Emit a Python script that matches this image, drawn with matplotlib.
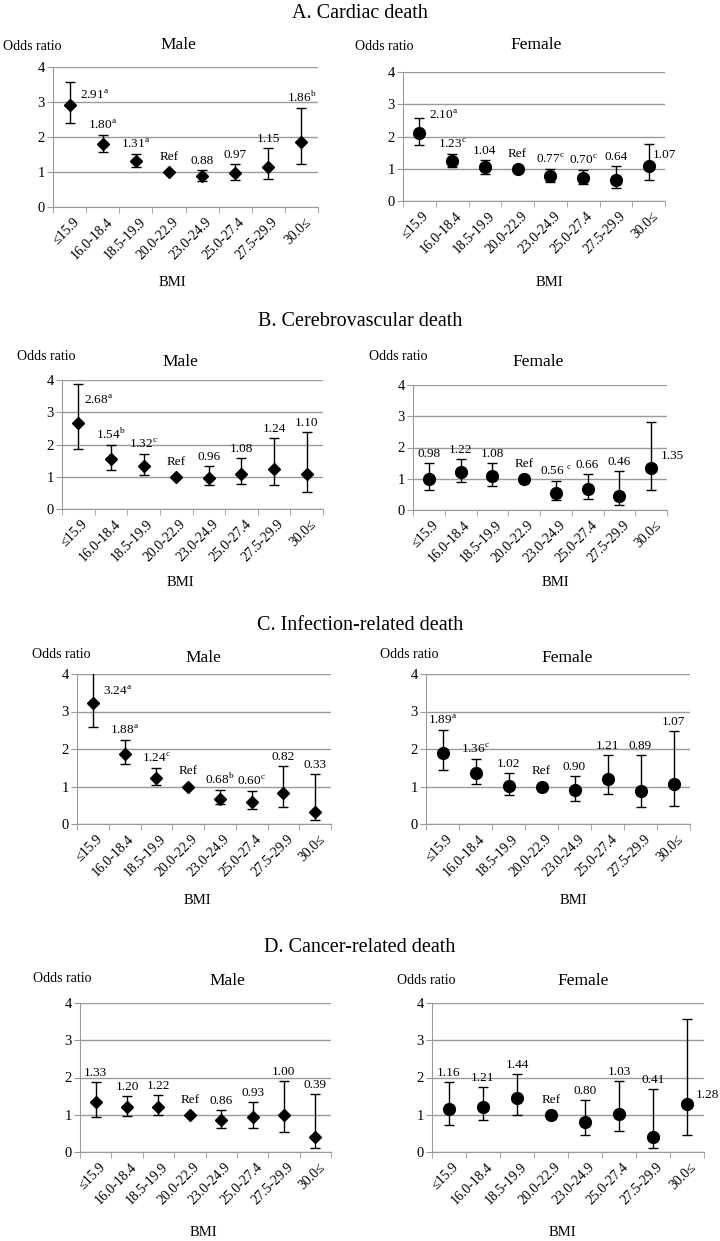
import numpy as np
import matplotlib.pyplot as plt
from matplotlib.transforms import ScaledTranslation

plt.rcParams['font.family'] = ['Liberation Serif', 'DejaVu Serif']
plt.rcParams['mathtext.fontset'] = 'custom'
plt.rcParams['mathtext.rm'] = 'Liberation Serif'

# BMI categories (index 3 is the reference group)
bmi_groups = ['≤15.9', '16.0-18.4', '18.5-19.9', '20.0-22.9',
              '23.0-24.9', '25.0-27.4', '27.5-29.9', '30.0≤']
ref_idx = 3

section_titles = ['A. Cardiac death', 'B. Cerebrovascular death',
                  'C. Infection-related death', 'D. Cancer-related death']

# A. Cardiac death
cardiac_male_or = [2.91, 1.80, 1.31, 1.00, 0.88, 0.97, 1.15, 1.86]
cardiac_male_lo = [2.39, 1.57, 1.15, np.nan, 0.74, 0.78, 0.79, 1.24]
cardiac_male_hi = [3.56, 2.06, 1.51, np.nan, 1.05, 1.22, 1.68, 2.82]
cardiac_male_sup = ['a', 'a', 'a', '', '', '', '', 'b']

cardiac_female_or = [2.10, 1.23, 1.04, 1.00, 0.77, 0.70, 0.64, 1.07]
cardiac_female_lo = [1.73, 1.04, 0.85, np.nan, 0.60, 0.52, 0.39, 0.66]
cardiac_female_hi = [2.58, 1.45, 1.27, np.nan, 0.98, 0.97, 1.08, 1.77]
cardiac_female_sup = ['a', 'c', '', '', 'c', 'c', '', '']

# B. Cerebrovascular death
cerebro_male_or = [2.68, 1.54, 1.32, 1.00, 0.96, 1.08, 1.24, 1.10]
cerebro_male_lo = [1.86, 1.21, 1.04, np.nan, 0.73, 0.78, 0.73, 0.53]
cerebro_male_hi = [3.87, 1.99, 1.71, np.nan, 1.32, 1.59, 2.21, 2.39]
cerebro_male_sup = ['a', 'b', 'c', '', '', '', '', '']

cerebro_female_or = [0.98, 1.22, 1.08, 1.00, 0.56, 0.66, 0.46, 1.35]
cerebro_female_lo = [0.63, 0.90, 0.77, np.nan, 0.32, 0.36, 0.17, 0.64]
cerebro_female_hi = [1.51, 1.63, 1.49, np.nan, 0.94, 1.16, 1.25, 2.83]
cerebro_female_sup = ['', '', '', '', ' c', '', '', '']

# C. Infection-related death
infect_male_or = [3.24, 1.88, 1.24, 1.00, 0.68, 0.60, 0.82, 0.33]
infect_male_lo = [2.59, 1.60, 1.03, np.nan, 0.53, 0.40, 0.45, 0.10]
infect_male_hi = [4.10, 2.23, 1.50, np.nan, 0.90, 0.88, 1.56, 1.34]
infect_male_sup = ['a', 'a', 'c', '', 'b', 'c', '', '']

infect_female_or = [1.89, 1.36, 1.02, 1.00, 0.90, 1.21, 0.89, 1.07]
infect_female_lo = [1.43, 1.08, 0.78, np.nan, 0.62, 0.80, 0.45, 0.47]
infect_female_hi = [2.50, 1.73, 1.37, np.nan, 1.29, 1.85, 1.85, 2.48]
infect_female_sup = ['a', 'c', '', '', '', '', '', '']

# D. Cancer-related death
cancer_male_or = [1.33, 1.20, 1.22, 1.00, 0.86, 0.93, 1.00, 0.39]
cancer_male_lo = [0.94, 0.97, 1.00, np.nan, 0.64, 0.65, 0.53, 0.10]
cancer_male_hi = [1.88, 1.51, 1.52, np.nan, 1.14, 1.34, 1.90, 1.57]
cancer_male_sup = ['', '', '', '', '', '', '', '']

cancer_female_or = [1.16, 1.21, 1.44, 1.00, 0.80, 1.03, 0.41, 1.28]
cancer_female_lo = [0.72, 0.85, 1.00, np.nan, 0.46, 0.57, 0.10, 0.46]
cancer_female_hi = [1.89, 1.74, 2.09, np.nan, 1.39, 1.90, 1.69, 3.58]
cancer_female_sup = ['', '', '', '', '', '', '', '']

W, H = 720, 1241
fig = plt.figure(figsize=(W / 100, H / 100), dpi=100)


def px_rect(l, t, r, b):
    return [l / W, 1 - b / H, (r - l) / W, (b - t) / H]


def fig_xy(x, y):
    return x / W, 1 - y / H


# panel layout in pixels: axes box, "Odds ratio" left/center, subtitle center, BMI center
# plus labels drawn to the right of the point {index: (dx, dy) pixels}
panels = [
    ('Male', (53, 67, 318, 207), (3, 46), (178, 45), (172, 283), {0: (10, 10)},
     cardiac_male_or, cardiac_male_lo, cardiac_male_hi, cardiac_male_sup),
    ('Female', (403, 72, 665, 201), (355, 46), (536, 45), (549, 283), {0: (10, 18), 7: (4, 11)},
     cardiac_female_or, cardiac_female_lo, cardiac_female_hi, cardiac_female_sup),
    ('Male', (62, 380, 323, 509), (17, 356), (180, 362), (180, 582), {0: (6, 22)},
     cerebro_male_or, cerebro_male_lo, cerebro_male_hi, cerebro_male_sup),
    ('Female', (413, 385, 667, 510), (369, 356), (538, 362), (555, 583), {7: (10, 12)},
     cerebro_female_or, cerebro_female_lo, cerebro_female_hi, cerebro_female_sup),
    ('Male', (77, 674, 331, 824), (32, 655), (203, 658), (197, 900), {0: (10, 11)},
     infect_male_or, infect_male_lo, infect_male_hi, infect_male_sup),
    ('Female', (426, 674, 690, 824), (380, 655), (567, 658), (573, 900), {},
     infect_female_or, infect_female_lo, infect_female_hi, infect_female_sup),
    ('Male', (80, 1003, 331, 1152), (33, 978), (227, 981), (203, 1232), {},
     cancer_male_or, cancer_male_lo, cancer_male_hi, cancer_male_sup),
    ('Female', (432, 1003, 704, 1152), (397, 980), (583, 981), (562, 1232), {7: (9, 9)},
     cancer_female_or, cancer_female_lo, cancer_female_hi, cancer_female_sup),
]

title_y = [13, 322, 626, 947]
grey = '#9a9a9a'


def make_label(v, s):
    txt = f'{v:.2f}'
    if s:
        pre = ' ' if s.startswith(' ') else ''
        txt += pre + r'$^{\mathrm{' + s.strip() + '}}$'
    return txt


for k, (sex, box, odds_xy, sub_xy, bmi_xy, right, vals, lo, hi, sup) in enumerate(panels):
    ax = fig.add_axes(px_rect(*box))
    x = np.arange(len(bmi_groups))
    vals = np.array(vals)
    lo = np.array(lo)
    hi = np.array(hi)
    ok = ~np.isnan(lo)
    marker = 'D' if sex == 'Male' else 'o'
    ms = 6.5 if sex == 'Male' else 8.5

    ax.errorbar(x[ok], vals[ok], yerr=[vals[ok] - lo[ok], hi[ok] - vals[ok]],
                fmt='none', ecolor='black', elinewidth=1, capsize=3.5, capthick=1, zorder=3)
    ax.plot(x, vals, linestyle='none', marker=marker, ms=ms, color='black', zorder=4)

    for i in range(len(bmi_groups)):
        if i == ref_idx:
            ax.annotate('Ref', (x[i], vals[i]), xytext=(0, 12), textcoords='offset pixels',
                        ha='center', va='baseline', fontsize=9.5)
        elif i in right:
            dx, dy = right[i]
            ax.annotate(make_label(vals[i], sup[i]), (x[i], vals[i]), xytext=(dx, dy),
                        textcoords='offset pixels', ha='left', va='center', fontsize=9.5)
        else:
            ax.annotate(make_label(vals[i], sup[i]), (x[i], hi[i]), xytext=(0, 6),
                        textcoords='offset pixels', ha='center', va='baseline', fontsize=9.5)

    ax.set_xlim(-0.5, len(bmi_groups) - 0.5)
    ax.set_ylim(0, 4)
    ax.set_yticks([0, 1, 2, 3, 4])
    ax.yaxis.grid(True, color=grey, linewidth=1)
    ax.set_axisbelow(True)
    ax.set_xticks(x)
    ax.set_xticklabels(bmi_groups, rotation=45, ha='right', rotation_mode='anchor', fontsize=10)
    ax.set_xticks(np.arange(-0.5, len(bmi_groups)), minor=True)
    ax.tick_params(axis='x', which='major', length=0, pad=6)
    ax.tick_params(axis='x', which='minor', length=4, color=grey, direction='out')
    ax.tick_params(axis='y', length=4, color=grey, labelsize=10.5, pad=2)
    off = ScaledTranslation(3 / 100, 0, fig.dpi_scale_trans)
    for lab in ax.get_xticklabels():
        lab.set_transform(lab.get_transform() + off)
    for side in ['top', 'right']:
        ax.spines[side].set_visible(False)
    for side in ['left', 'bottom']:
        ax.spines[side].set_color(grey)

    fx, fy = fig_xy(*odds_xy)
    fig.text(fx, fy, 'Odds ratio', ha='left', va='center', fontsize=10)
    fx, fy = fig_xy(*sub_xy)
    fig.text(fx, fy, sex, ha='center', va='center', fontsize=12.5)
    fx, fy = fig_xy(*bmi_xy)
    fig.text(fx, fy, 'BMI', ha='center', va='center', fontsize=10.5)

for t, ty in zip(section_titles, title_y):
    fx, fy = fig_xy(360, ty)
    fig.text(fx, fy, t, ha='center', va='center', fontsize=14.5)

fig.savefig('out.png', dpi=100)
